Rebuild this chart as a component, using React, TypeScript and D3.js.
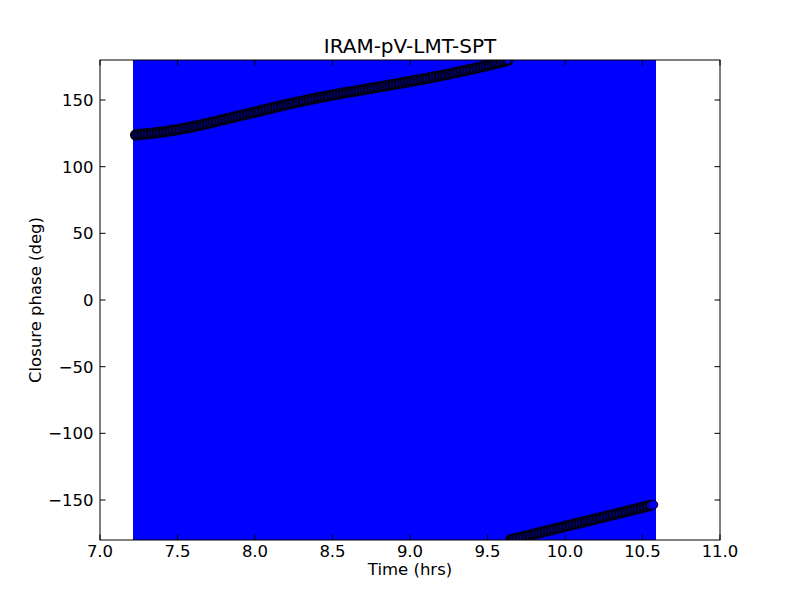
import React from "react";
import * as d3 from "d3";

const times = [
  7.23, 7.25, 7.27, 7.29,
  7.31, 7.33, 7.35, 7.37, 7.39, 7.41, 7.43, 7.45, 7.47, 7.49,
  7.51, 7.53, 7.55, 7.57, 7.59, 7.61, 7.63, 7.65, 7.67, 7.69,
  7.71, 7.73, 7.75, 7.77, 7.79, 7.81, 7.83, 7.85, 7.87, 7.89,
  7.91, 7.93, 7.95, 7.97, 7.99, 8.01, 8.03, 8.05, 8.07, 8.09,
  8.11, 8.13, 8.15, 8.17, 8.19, 8.21, 8.23, 8.25, 8.27, 8.29,
  8.31, 8.33, 8.35, 8.37, 8.39, 8.41, 8.43, 8.45, 8.47, 8.49,
  8.51, 8.53, 8.55, 8.57, 8.59, 8.61, 8.63, 8.65, 8.67, 8.69,
  8.71, 8.73, 8.75, 8.77, 8.79, 8.81, 8.83, 8.85, 8.87, 8.89,
  8.91, 8.93, 8.95, 8.97, 8.99, 9.01, 9.03, 9.05, 9.07, 9.09,
  9.11, 9.13, 9.15, 9.17, 9.19, 9.21, 9.23, 9.25, 9.27, 9.29,
  9.31, 9.33, 9.35, 9.37, 9.39, 9.41, 9.43, 9.45, 9.47, 9.49,
  9.51, 9.53, 9.55, 9.57, 9.59, 9.61, 9.63, 9.65, 9.67, 9.69,
  9.71, 9.73, 9.75, 9.77, 9.79, 9.81, 9.83, 9.85, 9.87, 9.89,
  9.91, 9.93, 9.95, 9.97, 9.99, 10.01, 10.03, 10.05, 10.07, 10.09,
  10.11, 10.13, 10.15, 10.17, 10.19, 10.21, 10.23, 10.25, 10.27, 10.29,
  10.31, 10.33, 10.35, 10.37, 10.39, 10.41, 10.43, 10.45, 10.47, 10.49,
  10.51, 10.53, 10.55, 10.57,
];

const phases = [
  123.8, 124.1, 124.3, 124.5,
  124.7, 125.0, 125.3, 125.6, 125.9, 126.2, 126.5, 126.9, 127.3, 127.6,
  128.0, 128.5, 128.9, 129.3, 129.8, 130.3, 130.8, 131.3, 131.8, 132.3,
  132.9, 133.4, 134.0, 134.6, 135.1, 135.7, 136.2, 136.8, 137.4, 137.9,
  138.5, 139.0, 139.6, 140.2, 140.7, 141.3, 141.8, 142.4, 143.0, 143.5,
  144.1, 144.6, 145.2, 145.7, 146.2, 146.8, 147.3, 147.8, 148.3, 148.8,
  149.3, 149.8, 150.3, 150.8, 151.3, 151.7, 152.2, 152.6, 153.0, 153.5,
  153.9, 154.3, 154.8, 155.2, 155.6, 156.0, 156.4, 156.8, 157.2, 157.6,
  158.0, 158.4, 158.8, 159.2, 159.6, 160.0, 160.4, 160.8, 161.2, 161.6,
  162.0, 162.4, 162.9, 163.3, 163.7, 164.1, 164.5, 165.0, 165.4, 165.8,
  166.2, 166.7, 167.2, 167.6, 168.1, 168.5, 169.0, 169.5, 170.0, 170.5,
  171.0, 171.5, 172.0, 172.5, 173.0, 173.5, 174.0, 174.6, 175.1, 175.6,
  176.2, 176.8, 177.4, 177.9, 178.5, 179.1, 179.7, -179.8, -179.2, -178.6,
  -178.1, -177.5, -176.9, -176.4, -175.8, -175.2, -174.6, -174.1, -173.5, -172.9,
  -172.4, -171.8, -171.2, -170.7, -170.1, -169.5, -168.9, -168.4, -167.8, -167.2,
  -166.7, -166.1, -165.5, -165.0, -164.4, -163.8, -163.2, -162.7, -162.1, -161.5,
  -161.0, -160.4, -159.8, -159.3, -158.7, -158.1, -157.5, -157.0, -156.4, -155.8,
  -155.3, -154.7, -154.1, -153.6,
];

const phaseSigma = 360;

const xTicks = [7.0, 7.5, 8.0, 8.5, 9.0, 9.5, 10.0, 10.5, 11.0];
const yTicks = [-150, -100, -50, 0, 50, 100, 150];

const title = "IRAM-pV-LMT-SPT";
const xLabel = "Time (hrs)";
const yLabel = "Closure phase (deg)";

const W = 800;
const H = 600;
const M = { left: 100, right: 720, top: 60, bottom: 540 };
const FONT = "'DejaVu Sans', sans-serif";

export default function App() {
  const x = d3.scaleLinear().domain([7, 11]).range([M.left, M.right]);
  const y = d3.scaleLinear().domain([-180, 180]).range([M.bottom, M.top]);
  const pts = d3.zip(times, phases) as [number, number][];
  const tickLen = 5.5;
  const fmtX = d3.format(".1f");
  const fmtY = (v: number) => (v < 0 ? "\u2212" + Math.abs(v) : String(v));

  return (
    <svg
      width={W}
      height={H}
      viewBox={`0 0 ${W} ${H}`}
      style={{ position: "absolute", left: 0, top: 0, display: "block", background: "#fff" }}
      fontFamily={FONT}
    >
      <defs>
        <clipPath id="ax">
          <rect x={M.left} y={M.top} width={M.right - M.left} height={M.bottom - M.top} />
        </clipPath>
      </defs>
      <rect x={0} y={0} width={W} height={H} fill="#fff" />
      <g clipPath="url(#ax)">
        <g shapeRendering="crispEdges">
          {pts.map(([t, p], i) => (
            <line
              key={"e" + i}
              x1={x(t)}
              x2={x(t)}
              y1={y(p - phaseSigma)}
              y2={y(p + phaseSigma)}
              stroke="#0000ff"
              strokeWidth={5}
            />
          ))}
        </g>
        {pts.map(([t, p], i) => (
          <circle
            key={"m" + i}
            cx={x(t)}
            cy={y(p)}
            r={4.4}
            fill="#0000ff"
            stroke="#00001a"
            strokeWidth={i === pts.length - 1 ? 1 : 2.6}
          />
        ))}
      </g>
      {xTicks.map((t) => (
        <g key={"xt" + t}>
          <line x1={x(t)} x2={x(t)} y1={M.bottom} y2={M.bottom - tickLen} stroke="#000" />
          <line x1={x(t)} x2={x(t)} y1={M.top} y2={M.top + tickLen} stroke="#000" />
          <text x={x(t)} y={557.3} textAnchor="middle" fontSize={16.5} fill="#000">
            {fmtX(t)}
          </text>
        </g>
      ))}
      {yTicks.map((v) => (
        <g key={"yt" + v}>
          <line x1={M.left} x2={M.left + tickLen} y1={y(v)} y2={y(v)} stroke="#000" />
          <line x1={M.right} x2={M.right - tickLen} y1={y(v)} y2={y(v)} stroke="#000" />
          <text x={93.5} y={y(v) + 6} textAnchor="end" fontSize={16.5} fill="#000">
            {fmtY(v)}
          </text>
        </g>
      ))}
      <rect
        x={M.left}
        y={M.top}
        width={M.right - M.left}
        height={M.bottom - M.top}
        fill="none"
        stroke="#000"
        strokeWidth={1}
      />
      <text x={410} y={575.3} textAnchor="middle" fontSize={16.5} fill="#000">
        {xLabel}
      </text>
      <text
        transform={`translate(40.7, ${(M.top + M.bottom) / 2}) rotate(-90)`}
        textAnchor="middle"
        fontSize={16.5}
        fill="#000"
      >
        {yLabel}
      </text>
      <text x={410} y={53.3} textAnchor="middle" fontSize={20} fill="#000">
        {title}
      </text>
    </svg>
  );
}
